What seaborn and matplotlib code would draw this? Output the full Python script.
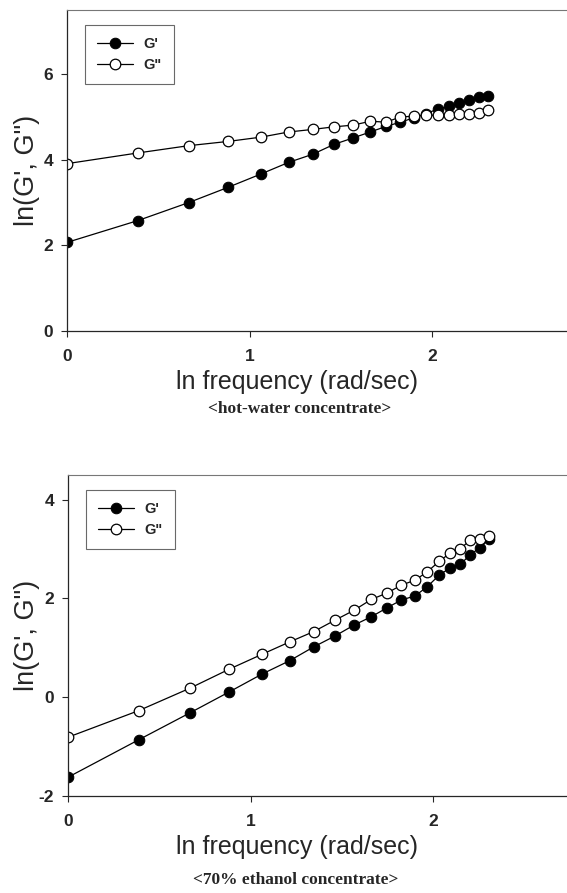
import numpy as np
import pandas as pd
import seaborn as sns
import matplotlib.pyplot as plt

# ln frequency (rad/sec)
ln_freq = [0.0, 0.388, 0.666, 0.884, 1.063, 1.214, 1.346, 1.462, 1.566, 1.661,
           1.747, 1.826, 1.900, 1.968, 2.032, 2.093, 2.149, 2.203, 2.254, 2.303]

# hot-water concentrate
hot_g1 = [2.07, 2.58, 3.00, 3.36, 3.67, 3.94, 4.13, 4.36, 4.51, 4.65,
          4.78, 4.88, 4.98, 5.08, 5.19, 5.25, 5.33, 5.40, 5.47, 5.50]
hot_g2 = [3.91, 4.16, 4.33, 4.43, 4.53, 4.65, 4.71, 4.77, 4.81, 4.90,
          4.88, 5.00, 5.02, 5.04, 5.04, 5.04, 5.08, 5.08, 5.09, 5.16]

# 70% ethanol concentrate
eth_g1 = [-1.62, -0.86, -0.32, 0.11, 0.47, 0.74, 1.02, 1.24, 1.46, 1.63,
          1.81, 1.97, 2.05, 2.24, 2.47, 2.62, 2.69, 2.89, 3.02, 3.20]
eth_g2 = [-0.81, -0.27, 0.18, 0.57, 0.87, 1.12, 1.33, 1.56, 1.76, 1.98,
          2.11, 2.27, 2.37, 2.54, 2.75, 2.92, 3.01, 3.18, 3.20, 3.26]

sns.set_style("ticks")
plt.rcParams['font.family'] = ['Liberation Sans', 'DejaVu Sans']
plt.rcParams['axes.unicode_minus'] = False

fig = plt.figure(figsize=(5.67, 8.93), dpi=100)

W = 567.0
H = 893.0


def panel(left_px, top_px, bottom_px, g1, g2, ylim, yticks, caption, cap_x, cap_y):
    px_per_unit = 182.6
    right_px = W + 8
    width_px = right_px - left_px
    ax = fig.add_axes([left_px / W, 1 - bottom_px / H,
                       width_px / W, (bottom_px - top_px) / H])
    df = pd.DataFrame({'x': ln_freq, "G'": g1, 'G"': g2})
    sns.lineplot(data=df, x='x', y="G'", ax=ax, color='black', lw=0.9,
                 marker='o', markersize=7.6, markerfacecolor='black',
                 markeredgecolor='black', label="G'")
    sns.lineplot(data=df, x='x', y='G"', ax=ax, color='black', lw=0.9,
                 marker='o', markersize=7.6, markerfacecolor='white',
                 markeredgecolor='black', markeredgewidth=0.9, label='G"')
    ax.set_xlim(0, width_px / px_per_unit)
    ax.set_ylim(*ylim)
    ax.set_xticks([0, 1, 2])
    ax.set_yticks(yticks)
    ax.tick_params(direction='out', length=4, width=0.8, labelsize=12.5)
    ax.tick_params(axis='x', pad=9)
    ax.tick_params(axis='y', pad=6)
    for lab in ax.get_xticklabels() + ax.get_yticklabels():
        lab.set_fontweight('bold')
    ax.spines['right'].set_visible(False)
    ax.spines['top'].set_visible(True)
    ax.spines['top'].set_color('#777777')
    ax.spines['top'].set_linewidth(0.8)
    ax.spines['left'].set_linewidth(0.9)
    ax.spines['bottom'].set_linewidth(0.9)
    ax.set_xlabel('ln frequency (rad/sec)', fontsize=18)
    ax.xaxis.set_label_coords((297 - left_px) / width_px, -0.12)
    ax.set_ylabel("ln(G', G\")", fontsize=19.5)
    ax.yaxis.set_label_coords(-(left_px - 40) / width_px, 0.5)
    leg = ax.legend(loc='upper left', bbox_to_anchor=(0.036, 0.952),
                    borderaxespad=0, frameon=True, fancybox=False,
                    edgecolor='#444444', handlelength=2.5, borderpad=0.8,
                    labelspacing=0.5, handletextpad=0.7,
                    prop={'weight': 'bold', 'size': 10.5})
    leg.get_frame().set_linewidth(0.8)
    fig.text(cap_x / W, 1 - cap_y / H, caption, ha='center', va='center',
             fontsize=12.5, fontweight='bold', family='Liberation Serif')
    return ax


panel(67, 10, 331, hot_g1, hot_g2, (0, 7.5), [0, 2, 4, 6],
      '<hot-water concentrate>', 300, 409)
panel(68, 475, 796, eth_g1, eth_g2, (-2, 4.5), [-2, 0, 2, 4],
      '<70% ethanol concentrate>', 296, 880)

fig.savefig('out.png', dpi=100)
